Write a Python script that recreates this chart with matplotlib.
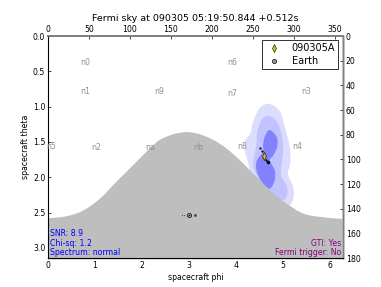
import numpy as np
import matplotlib
matplotlib.use("Agg")
import matplotlib.pyplot as plt
from matplotlib.path import Path
from matplotlib.patches import PathPatch

# === Values (radians) ===
limb_phi = [0, 0.40, 0.75, 1.11, 1.46, 1.81, 2.17, 2.38, 2.67, 2.95, 3.23, 3.52, 3.80, 4.09, 4.30, 4.51, 4.72, 5.08, 5.43, 5.79, 6.283]
limb_theta = [2.58, 2.55, 2.47, 2.30, 2.06, 1.83, 1.59, 1.47, 1.39, 1.36, 1.39, 1.47, 1.59, 1.76, 1.90, 2.04, 2.18, 2.37, 2.51, 2.56, 2.59]

outer_phi = [4.72, 4.51, 4.37, 4.31, 4.21, 4.19, 4.26, 4.33, 4.58, 4.94, 5.15, 5.23, 5.22, 5.11, 5.16, 5.15, 5.04, 4.94]
outer_theta = [0.96, 1.02, 1.21, 1.38, 1.47, 1.61, 1.78, 1.95, 2.18, 2.42, 2.39, 2.28, 2.13, 1.95, 1.80, 1.57, 1.28, 1.07]
middle_phi = [4.69, 4.55, 4.45, 4.44, 4.37, 4.43, 4.72, 5.01, 5.10, 5.08, 4.97, 4.97, 5.01, 4.94, 4.83]
middle_theta = [1.13, 1.19, 1.38, 1.54, 1.80, 1.95, 2.28, 2.32, 2.23, 2.11, 1.99, 1.85, 1.57, 1.31, 1.18]
inner_phi = [4.72, 4.62, 4.58, 4.58, 4.45, 4.44, 4.55, 4.72, 4.83, 4.83, 4.72, 4.79, 4.88, 4.87]
inner_theta = [1.33, 1.42, 1.54, 1.64, 1.76, 1.90, 2.06, 2.16, 2.04, 1.90, 1.76, 1.70, 1.57, 1.43]

det_names = ["n0", "n1", "n2", "n3", "n4", "n5", "n6", "n7", "n8", "n9", "na", "nb"]
det_phi = [0.80, 0.79, 1.02, 5.49, 5.30, 0.06, 3.92, 3.92, 4.13, 2.36, 2.17, 3.19]
det_theta = [0.37, 0.79, 1.58, 0.79, 1.57, 1.57, 0.37, 0.81, 1.57, 0.79, 1.58, 1.58]

grb_phi, grb_theta = 4.60, 1.70
earth_phi, earth_theta = 3.00, 2.54
dots_phi = [4.52, 4.55, 4.64, 4.69]
dots_theta = [1.59, 1.63, 1.75, 1.79]
earth_dots_phi = [2.85, 2.89, 3.14]
earth_dots_size = [0.8, 0.8, 2.0]

phi_ticks = [0, 1, 2, 3, 4, 5, 6]
theta_ticks = [0.0, 0.5, 1.0, 1.5, 2.0, 2.5, 3.0]
ra_ticks = [0, 50, 100, 150, 200, 250, 300, 350]
dec_ticks = [0, 20, 40, 60, 80, 100, 120, 140, 160, 180]

TICK_SIZE = 5.6


def smooth_path(xs, ys, closed):
    # Catmull-Rom through the read points, as bezier segments
    pts = np.column_stack([xs, ys])
    n = len(pts)
    verts = [pts[0]]
    codes = [Path.MOVETO]
    for i in range(n if closed else n - 1):
        if closed:
            p0, p1, p2, p3 = pts[i - 1], pts[i], pts[(i + 1) % n], pts[(i + 2) % n]
        else:
            p0, p1, p2, p3 = pts[max(i - 1, 0)], pts[i], pts[i + 1], pts[min(i + 2, n - 1)]
        verts += [p1 + (p2 - p0) / 6, p2 - (p3 - p1) / 6, p2]
        codes += [Path.CURVE4] * 3
    return verts, codes


def blob(ax, xs, ys, color):
    verts, codes = smooth_path(xs, ys, True)
    ax.add_patch(PathPatch(Path(verts, codes), facecolor=color, edgecolor="none", zorder=1))


fig = plt.figure(figsize=(3.81, 2.87), dpi=100)
top = fig.add_axes([48 / 381, 1 - 258 / 287, 295 / 381, 222 / 287])
top.set_xlim(0, 360)
top.set_xticks(ra_ticks)
top.xaxis.tick_top()
top.set_yticks([])
top.tick_params(direction="in", length=2.5, width=0.5, labelsize=TICK_SIZE, pad=1.5)

right = top.twinx()
right.set_ylim(180, 0)
right.set_yticks(dec_ticks)
right.tick_params(direction="in", length=2.5, width=0.5, labelsize=TICK_SIZE, pad=2)

# main axes go last so the detector labels sit on top of the twin spines
ax = fig.add_axes(top.get_position(), facecolor="none")
ax.set_xlim(0, 2 * np.pi)
ax.set_ylim(np.pi, 0)

blob(ax, outer_phi, outer_theta, "#dcdcff")
blob(ax, middle_phi, middle_theta, "#c2c2ff")
blob(ax, inner_phi, inner_theta, "#8282ff")

# Earth limb, filled down to the bottom of the axes
verts, codes = smooth_path(limb_phi, limb_theta, False)
verts += [(limb_phi[-1], np.pi), (limb_phi[0], np.pi), (limb_phi[0], limb_theta[0])]
codes += [Path.LINETO, Path.LINETO, Path.CLOSEPOLY]
ax.add_patch(PathPatch(Path(verts, codes), facecolor="#bebebe", edgecolor="none", zorder=2))

for name, p, t in zip(det_names, det_phi, det_theta):
    ax.text(p, t, name, color="#909090", fontsize=5.6, ha="center", va="center", zorder=3)

ax.plot(dots_phi, dots_theta, "k.", ms=1.2, zorder=4)
ax.plot(dots_phi[-1], dots_theta[-1], "k.", ms=3, zorder=4)
grb, = ax.plot(grb_phi, grb_theta, "d", color="#c8c800", mec="k", mew=0.4, ms=3.8, zorder=5, ls="none")
for p, s in zip(earth_dots_phi, earth_dots_size):
    ax.plot(p, earth_theta, "o", color="#404040", ms=s, mew=0, zorder=4)
earth, = ax.plot(earth_phi, earth_theta, "o", color="#a0a0a0", mec="k", mew=0.5, ms=3, zorder=5, ls="none")
ax.plot(earth_phi, earth_theta, "o", color="k", ms=1, mew=0, zorder=6)

ax.text(0.05, 2.79, "SNR: 8.9", color="blue", fontsize=5.6, va="center", zorder=6)
ax.text(0.05, 2.93, "Chi-sq: 1.2", color="blue", fontsize=5.6, va="center", zorder=6)
ax.text(0.05, 3.06, "Spectrum: normal", color="blue", fontsize=5.6, va="center", zorder=6)
ax.text(6.24, 2.93, "GTI: Yes", color="purple", fontsize=5.6, ha="right", va="center", zorder=6)
ax.text(6.24, 3.06, "Fermi trigger: No", color="purple", fontsize=5.6, ha="right", va="center", zorder=6)

ax.set_xticks(phi_ticks)
ax.set_yticks(theta_ticks)
ax.tick_params(direction="in", length=2.5, width=0.5, labelsize=TICK_SIZE, pad=2)
ax.set_xlabel("spacecraft phi", fontsize=TICK_SIZE, labelpad=2)
ax.set_ylabel("spacecraft theta", fontsize=TICK_SIZE, labelpad=2)
ax.set_title("Fermi sky at 090305 05:19:50.844 +0.512s", fontsize=6.8, pad=11)

for a in (ax, top, right):
    a.spines["top"].set_color("#808080")
    a.spines["top"].set_linewidth(1.2)
    a.spines["right"].set_color("#808080")
    a.spines["right"].set_linewidth(1.0)
    a.spines["left"].set_linewidth(0.8)
    a.spines["bottom"].set_linewidth(0.8)
for a in (top, right):
    a.spines["left"].set_visible(False)

leg = ax.legend([grb, earth], ["090305A", "Earth"], loc="upper right", numpoints=1,
                bbox_to_anchor=(290 / 295, 1 - 4 / 222), borderaxespad=0,
                fontsize=7, frameon=True, fancybox=False, framealpha=1,
                edgecolor="#303030", labelspacing=0.35, borderpad=0.3,
                handlelength=2.0, handletextpad=0.78)
leg.get_frame().set_linewidth(0.7)
leg.set_zorder(7)

fig.savefig("out.png", dpi=100)
